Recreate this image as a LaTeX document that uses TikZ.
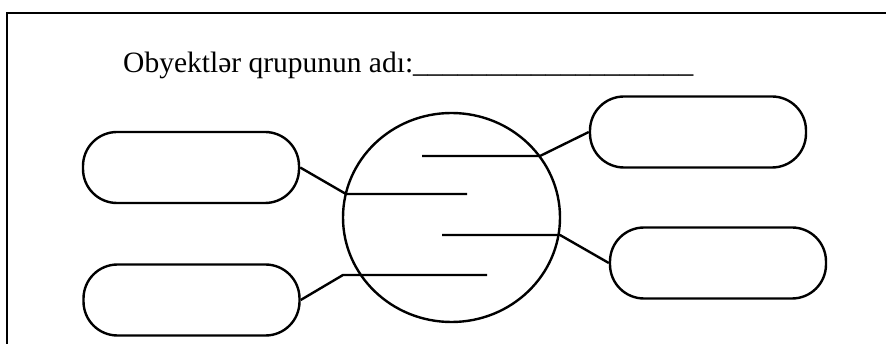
\documentclass[tikz,border=0pt]{standalone}
\usepackage{fontspec}
\setmainfont{Liberation Serif}
\usepackage{tikz}
\usetikzlibrary{shapes.geometric}

\begin{document}
\begin{tikzpicture}[x=1pt, y=-1pt, line width=2.4pt,
  box/.style={draw, shape=rectangle, rounded corners=34pt, minimum width=216pt, minimum height=71pt, inner sep=0pt}]

\useasboundingbox (0,0) rectangle (886,344);
\draw[line width=1.8pt] (7,13) rectangle (900,360);

\node[anchor=base west, inner sep=0pt, font=\fontsize{29.5}{34}\selectfont] (title) at (122,73) {Obyektlər qrupunun adı:\_\_\_\_\_\_\_\_\_\_\_\_\_\_\_\_\_\_\_};

\node[draw, shape=ellipse, minimum width=217pt, minimum height=209pt, inner sep=0pt] (grp) at (451.5,217.5) {};

\node[box] (lt) at (191,167.5) {};
\node[box] (lb) at (191.5,300) {};
\node[box] (rt) at (698,132) {};
\node[box] (rb) at (718,263) {};

\coordinate (c1) at (540,156);
\coordinate (c1s) at (422,156);
\coordinate (c2) at (346,194);
\coordinate (c2e) at (467,194);
\coordinate (c3) at (560,235);
\coordinate (c3s) at (442,235);
\coordinate (c4) at (343,275);
\coordinate (c4e) at (487,275);

\draw[-] (c1s) to (c1) to (rt.west);
\draw[-] (lt.east) to (c2) to (c2e);
\draw[-] (c3s) to (c3) to (rb.west);
\draw[-] (lb.east) to (c4) to (c4e);

\end{tikzpicture}
\end{document}
